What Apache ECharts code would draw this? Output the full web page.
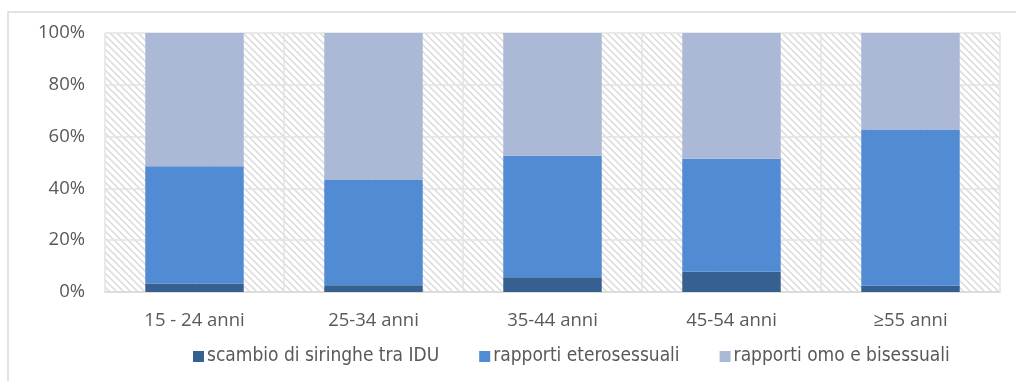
<!DOCTYPE html>
<html>
<head>
<meta charset="utf-8">
<script src="https://cdn.jsdelivr.net/npm/echarts@6/dist/echarts.min.js"></script>
<style>
  html, body { margin: 0; padding: 0; background: #fff; }
  #chart { width: 1016px; height: 381px; }
</style>
</head>
<body>
<div id="chart"></div>
<script>
// Age groups and share (%) of each transmission route
const categories = ['15 - 24 anni', '25-34 anni', '35-44 anni', '45-54 anni', '≥55 anni'];
const idu = [3.3, 2.6, 5.7, 7.8, 2.4];
const etero = [45.3, 40.8, 46.9, 43.6, 60.3];
const omoBi = [51.4, 56.6, 47.4, 48.6, 37.3];
const yTicks = [0, 20, 40, 60, 80, 100];

const seriesNames = ['scambio di siringhe tra IDU', 'rapporti eterosessuali', 'rapporti omo e bisessuali'];
const seriesColors = ['#36608f', '#518bd3', '#abb9d6'];

// Diagonal hatch tile for the plot background
function hatchTile() {
  const s = 7;
  const c = document.createElement('canvas');
  c.width = s; c.height = s;
  const g = c.getContext('2d');
  g.fillStyle = '#ffffff';
  g.fillRect(0, 0, s, s);
  g.strokeStyle = '#dadada';
  g.lineWidth = 1.5;
  g.beginPath();
  g.moveTo(-1, -1); g.lineTo(s + 1, s + 1);
  g.moveTo(-1, s - 1); g.lineTo(1, s + 1);
  g.moveTo(s - 1, -1); g.lineTo(s + 1, 1);
  g.stroke();
  return c;
}

const font = 'Open Sans';
const chart = echarts.init(document.getElementById('chart'), null, { renderer: 'canvas' });

chart.setOption({
  animation: false,
  backgroundColor: '#ffffff',
  graphic: [{
    type: 'rect',
    shape: { x: 8, y: 12, width: 1200, height: 600 },
    style: { fill: 'none', stroke: '#d9d9d9', lineWidth: 1.5 },
    silent: true
  }],
  grid: {
    left: 105, right: 16, top: 33, bottom: 89,
    show: true,
    borderWidth: 0,
    backgroundColor: { image: hatchTile(), repeat: 'repeat' }
  },
  legend: {
    bottom: 10,
    left: 188,
    itemWidth: 11,
    itemHeight: 11,
    itemGap: 40,
    icon: 'rect',
    textStyle: { fontFamily: 'DejaVu Sans Condensed', fontSize: 19, color: '#595959', padding: [0, 0, 0, -2] },
    data: seriesNames
  },
  xAxis: {
    type: 'category',
    data: categories,
    axisLine: { lineStyle: { color: '#d9d9d9', width: 1.5 } },
    axisTick: { show: false },
    splitLine: { show: true, lineStyle: { color: '#e3e3e3', width: 1.5 } },
    axisLabel: { fontFamily: font, fontSize: 18.5, color: '#595959', margin: 19 }
  },
  yAxis: {
    type: 'value',
    min: yTicks[0],
    max: yTicks[yTicks.length - 1],
    interval: yTicks[1] - yTicks[0],
    axisLine: { show: false },
    axisTick: { show: false },
    splitLine: { lineStyle: { color: '#e3e3e3', width: 1.5 } },
    axisLabel: { formatter: '{value}%', fontFamily: font, fontSize: 18.5, color: '#595959', margin: 20 }
  },
  series: [idu, etero, omoBi].map((d, i) => ({
    name: seriesNames[i],
    type: 'bar',
    stack: 'tot',
    data: d,
    barCategoryGap: '45%',
    itemStyle: { color: seriesColors[i] }
  }))
});
</script>
</body>
</html>
